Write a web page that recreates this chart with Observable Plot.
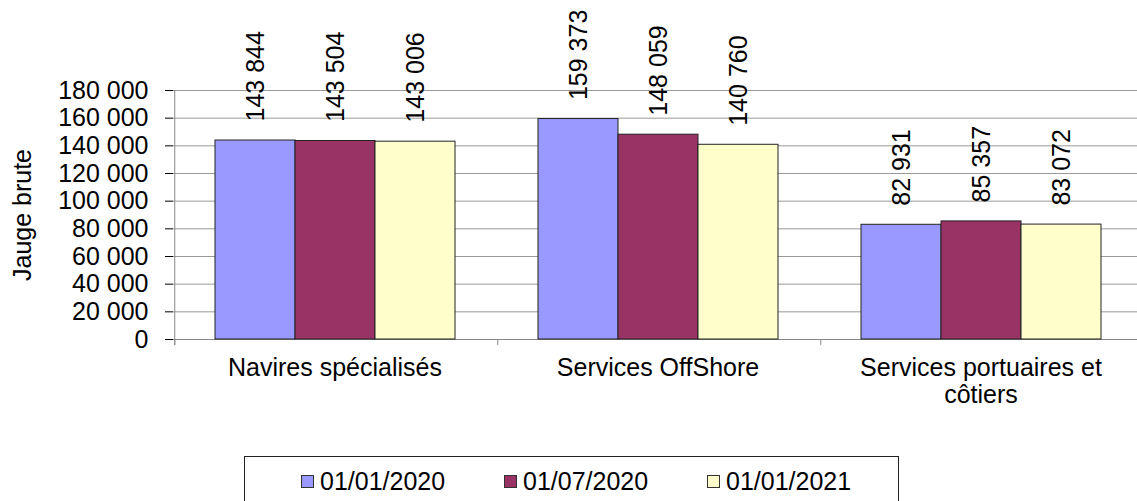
<!DOCTYPE html>
<html>
<head>
<meta charset="utf-8">
<script src="https://cdn.jsdelivr.net/npm/d3@7"></script>
<script src="https://cdn.jsdelivr.net/npm/@observablehq/plot@0.6"></script>
<style>
  html, body { margin: 0; padding: 0; background: #fff; overflow: hidden; }
  body { width: 1137px; height: 501px; position: relative; font-family: "Liberation Sans", Arial, sans-serif; }
  #legend { position: absolute; left: 244px; top: 456px; width: 655px; height: 60px; border: 1px solid #222; box-sizing: border-box; }
  .item { position: absolute; top: 9px; display: flex; align-items: center; font-size: 25px; color: #000; height: 30px; }
  .sw { width: 11px; height: 11px; border: 1px solid #333; margin-right: 6px; }
</style>
</head>
<body>
<div id="chart"></div>
<div id="legend"></div>
<script>
const categories = ["Navires spécialisés", "Services OffShore", "Services portuaires et côtiers"];
const categoryLabels = ["Navires spécialisés", "Services OffShore", "Services portuaires et\ncôtiers"];
const series = ["01/01/2020", "01/07/2020", "01/01/2021"];
const colors = ["#9999FF", "#993366", "#FFFFCC"];
const values2020a = [143844, 159373, 82931];
const values2020b = [143504, 148059, 85357];
const values2021a = [143006, 140760, 83072];
const yTicks = [0, 20000, 40000, 60000, 80000, 100000, 120000, 140000, 160000, 180000];
const yTitle = "Jauge brute";

const seriesValues = [values2020a, values2020b, values2021a];
const data = [];
categories.forEach((c, i) => series.forEach((s, j) => data.push({cat: c, ser: s, v: seriesValues[j][i]})));

const fmt = v => d3.format(",")(v).replace(/,/g, " ");
const font = "'Liberation Sans', Arial, sans-serif";
const halfStep = (1137 + 5 - 173) / 3 / 4;

const chart = Plot.plot({
  width: 1137,
  height: 420,
  marginTop: 90,
  marginBottom: 81,
  marginLeft: 173,
  marginRight: -5,
  style: {fontSize: "25px", fontFamily: font, color: "#000", background: "transparent"},
  fx: {domain: categories, padding: 0, axis: null, label: null},
  x: {domain: series, paddingInner: 0, paddingOuter: 0.5, axis: null},
  y: {domain: [0, 180000], ticks: yTicks, tickFormat: fmt, tickSize: 8, tickPadding: 17, label: null, grid: false},
  color: {domain: series, range: colors},
  marks: [
    Plot.ruleY(yTicks.slice(1), {stroke: "#999", strokeOpacity: 1}),
    Plot.ruleY([0], {stroke: "#888", strokeOpacity: 1}),
    Plot.ruleX([categories[0]], {fx: d => d, x: () => series[0], dx: -halfStep, y1: -4300, y2: 180000, stroke: "#888"}),
    Plot.ruleX(categories, {fx: d => d, x: () => series[0], dx: -halfStep, y1: -4300, y2: 0, stroke: "#888"}),
    Plot.barY(data, {fx: "cat", x: "ser", y: "v", fill: "ser", stroke: "#222", strokeWidth: 1, inset: 0}),
    Plot.text(data, {fx: "cat", x: "ser", y: "v", text: d => fmt(d.v), rotate: -90, textAnchor: "start", lineAnchor: "middle", dy: -19, fill: "#000", fontSize: 25}),
    Plot.axisFx({anchor: "bottom", label: null, tickSize: 0, tickPadding: 18, lineHeight: 1.06, fontSize: 25,
      tickFormat: d => categoryLabels[categories.indexOf(d)]}),
    Plot.text([yTitle], {fx: () => categories[0], frameAnchor: "left", dx: -151, rotate: -90, text: d => d, textAnchor: "middle", lineAnchor: "middle", fontSize: 25, fill: "#000"})
  ]
});
document.getElementById("chart").appendChild(chart);

const legend = document.getElementById("legend");
series.forEach((s, i) => {
  const it = document.createElement("div");
  it.className = "item";
  it.style.left = (56 + i * 203) + "px";
  const sw = document.createElement("div");
  sw.className = "sw";
  sw.style.background = colors[i];
  const t = document.createElement("span");
  t.textContent = s;
  it.appendChild(sw);
  it.appendChild(t);
  legend.appendChild(it);
});
</script>
</body>
</html>
